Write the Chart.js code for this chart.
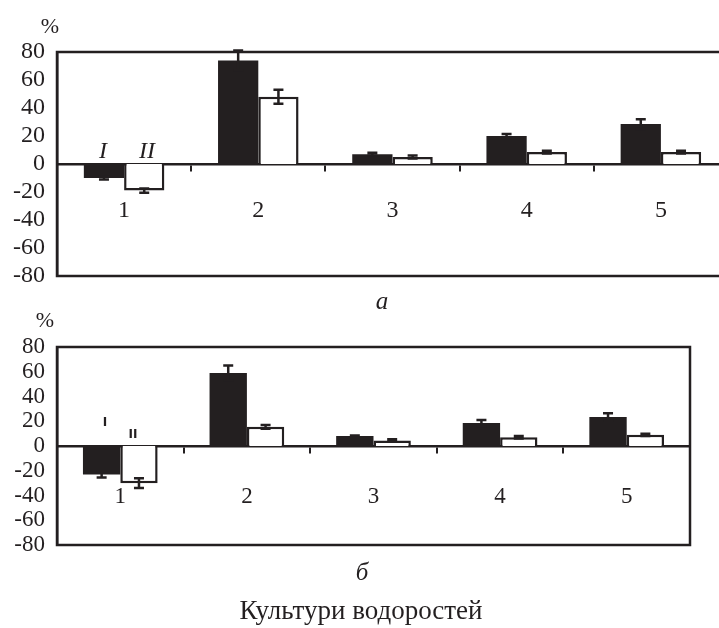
<!DOCTYPE html>
<html><head><meta charset="utf-8">
<script src="https://cdn.jsdelivr.net/npm/chart.js@4/dist/chart.umd.min.js"></script>
<style>
html,body{margin:0;padding:0;background:#fff;overflow:hidden;width:719px;height:628px;position:relative;}
canvas{position:absolute;left:0;}
.t{position:absolute;font-family:"Liberation Serif",serif;color:#231f20;white-space:nowrap;transform:translate(-50%,-50%);line-height:1;}
</style></head><body>
<canvas id="ca" width="740" height="300" style="top:0;width:740px;height:300px"></canvas>
<canvas id="cb" width="719" height="328" style="top:300px;width:719px;height:328px"></canvas>
<div class="t" style="left:50px;top:26px;font-size:22px">%</div>
<div class="t" style="left:45px;top:320px;font-size:22px">%</div>
<div class="t" style="left:103px;top:150px;font-size:24px;font-style:italic">I</div>
<div class="t" style="left:147px;top:150px;font-size:24px;font-style:italic">II</div>
<div class="t" style="left:105px;top:422px;font-size:12px;font-weight:bold;font-family:'DejaVu Sans',sans-serif">I</div>
<div class="t" style="left:133px;top:434px;font-size:12px;font-weight:bold;font-family:'DejaVu Sans',sans-serif">II</div>
<div class="t" style="left:382px;top:300px;font-size:25px;font-style:italic">а</div>
<div class="t" style="left:362px;top:571px;font-size:25px;font-style:italic">б</div>
<div class="t" style="left:361px;top:610px;font-size:27px">Культури водоростей</div>
<script>
const categories = ['1', '2', '3', '4', '5'];
// panel a
const aSeriesI = [-10, 74, 7, 20, 28.5];
const aErrI = [1, 7, 1, 1.5, 3.5];
const aSeriesII = [-19, 48, 5, 8.5, 8.5];
const aErrII = [1.5, 5, 1, 1, 1];
// panel б
const bSeriesI = [-23, 59, 8, 18.5, 23.5];
const bErrI = [2.5, 6, 0.5, 2.5, 3];
const bSeriesII = [-30, 15.5, 4.5, 7, 9];
const bErrII = [4, 1.5, 1, 1, 1];
const yMin = -80, yMax = 80, yStep = 20;

const INK = '#231f20';

const errorBars = {
  id: 'errorBars',
  afterDatasetsDraw(chart) {
    const ctx = chart.ctx, ys = chart.scales.y;
    chart.data.datasets.forEach((ds, di) => {
      const meta = chart.getDatasetMeta(di);
      meta.data.forEach((el, i) => {
        const v = ds.data[i], e = ds.errors[i];
        const y1 = ys.getPixelForValue(v + e), y2 = ys.getPixelForValue(v - e);
        ctx.save();
        ctx.strokeStyle = INK; ctx.lineWidth = 2.5;
        ctx.beginPath();
        ctx.moveTo(el.x, y1); ctx.lineTo(el.x, y2);
        ctx.moveTo(el.x - 5, y1); ctx.lineTo(el.x + 5, y1);
        ctx.moveTo(el.x - 5, y2); ctx.lineTo(el.x + 5, y2);
        ctx.stroke();
        ctx.restore();
      });
    });
  }
};
const frame = {
  id: 'frame',
  afterDraw(chart) {
    const a = chart.chartArea, ctx = chart.ctx;
    ctx.save();
    ctx.strokeStyle = INK; ctx.lineWidth = 2.5;
    ctx.strokeRect(a.left, a.top, a.right - a.left, a.bottom - a.top);
    ctx.restore();
  }
};

function makeChart(id, sI, eI, sII, eII, g) {
  return new Chart(document.getElementById(id), {
    type: 'bar',
    data: {
      labels: categories,
      datasets: [
        { label: 'I', data: sI, errors: eI, backgroundColor: INK, borderWidth: 0,
          categoryPercentage: g.cat, barPercentage: 1 },
        { label: 'II', data: sII, errors: eII, backgroundColor: '#ffffff', borderColor: INK, borderWidth: 2.5,
          categoryPercentage: g.cat, barPercentage: 1 }
      ]
    },
    options: {
      responsive: false, animation: false, devicePixelRatio: 1,
      layout: { padding: { top: g.top, right: g.right, bottom: g.bottom, left: 0 } },
      plugins: { legend: { display: false }, tooltip: { enabled: false } },
      scales: {
        x: {
          type: 'category', position: { y: 0 }, offset: true, z: 1,
          grid: { offset: true, drawOnChartArea: false, drawTicks: true, tickLength: 6, color: INK, lineWidth: 2 },
          border: { display: true, color: INK, width: 2.5 },
          ticks: { padding: g.xpad, color: INK, font: { family: 'Liberation Serif', size: g.font } }
        },
        y: {
          min: yMin, max: yMax,
          afterFit(s) { s.width = 57; },
          grid: { display: false, drawOnChartArea: false, drawTicks: false },
          border: { display: true, color: INK, width: 2.5 },
          ticks: { stepSize: yStep, autoSkip: false, padding: 12, color: INK,
                   font: { family: 'Liberation Serif', size: g.font, lineHeight: 1 } }
        }
      }
    },
    plugins: [errorBars, frame]
  });
}

makeChart('ca', aSeriesI, aErrI, aSeriesII, aErrII,
  { top: 52, right: 12, bottom: 24, xpad: 26, font: 24, cat: 0.6 });
makeChart('cb', bSeriesI, bErrI, bSeriesII, bErrII,
  { top: 47, right: 29, bottom: 83, xpad: 31, font: 23, cat: 0.59 });
</script>
</body></html>
